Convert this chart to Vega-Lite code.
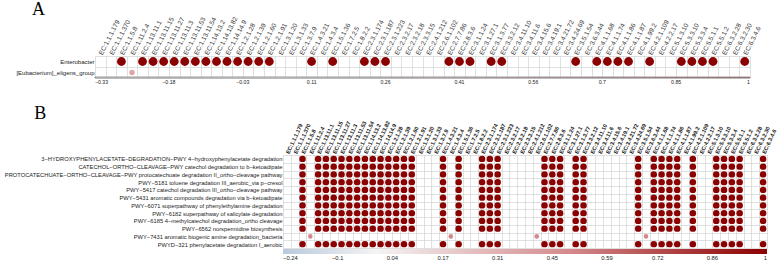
{
"$schema": "https://vega.github.io/schema/vega-lite/v6.json",
"padding": {"left": 2, "top": 0, "right": 2, "bottom": 0},
"background": "white",
"spacing": 20,
"bounds": "full",
"center": false,
"resolve": {"scale": {"color": "independent", "size": "independent", "x": "independent", "y": "independent"}, "legend": {"color": "independent", "size": "independent"}},
"config": {
 "font": "Liberation Sans",
 "view": {"stroke": null},
 "axis": {"labelFont": "Liberation Sans"},
 "legend": {"labelFont": "Liberation Sans"},
 "title": {"font": "Liberation Serif", "fontSize": 18, "fontWeight": "normal", "anchor": "start", "frame": "bounds", "dx": 30, "offset": -3, "color": "#000"}
},
"datasets": {
 "paths": [
  {"k": 1, "p": "3−HYDROXYPHENYLACETATE−DEGRADATION−PWY 4−hydroxyphenylacetate degradation"},
  {"k": 2, "p": "CATECHOL−ORTHO−CLEAVAGE−PWY catechol degradation to b−ketoadipate"},
  {"k": 3, "p": "PROTOCATECHUATE−ORTHO−CLEAVAGE−PWY protocatechuate degradation II_ortho−cleavage pathway"},
  {"k": 4, "p": "PWY−5181 toluene degradation III_aerobic_via p−cresol"},
  {"k": 5, "p": "PWY−5417 catechol degradation III_ortho−cleavage pathway"},
  {"k": 6, "p": "PWY−5431 aromatic compounds degradation via b−ketoadipate"},
  {"k": 7, "p": "PWY−6071 superpathway of phenylethylamine degradation"},
  {"k": 8, "p": "PWY−6182 superpathway of salicylate degradation"},
  {"k": 9, "p": "PWY−6185 4−methylcatechol degradation_ortho cleavage"},
  {"k": 10, "p": "PWY−6562 norspermidine biosynthesis"},
  {"k": 11, "p": "PWY−7431 aromatic biogenic amine degradation_bacteria"},
  {"k": 12, "p": "PWYD−321 phenylacetate degradation I_aerobic"}
 ],
 "a": [
  {"e":"EC:1.1.5.8","t":"Enterobacter","r":1},{"e":"EC:1.13.11.1","t":"Enterobacter","r":1},{"e":"EC:1.13.11.15","t":"Enterobacter","r":1},{"e":"EC:1.13.11.27","t":"Enterobacter","r":1},{"e":"EC:1.13.11.3","t":"Enterobacter","r":1},{"e":"EC:1.13.11.53","t":"Enterobacter","r":1},{"e":"EC:1.13.11.54","t":"Enterobacter","r":1},{"e":"EC:1.14.13.2","t":"Enterobacter","r":1},{"e":"EC:1.14.13.82","t":"Enterobacter","r":1},{"e":"EC:1.14.14.9","t":"Enterobacter","r":1},{"e":"EC:1.2.1.28","t":"Enterobacter","r":1},{"e":"EC:1.2.1.39","t":"Enterobacter","r":1},{"e":"EC:1.2.1.60","t":"Enterobacter","r":1},{"e":"EC:1.2.1.91","t":"Enterobacter","r":1},{"e":"EC:1.4.3.21","t":"Enterobacter","r":1},{"e":"EC:1.5.1.36","t":"Enterobacter","r":1},{"e":"EC:2.3.1.174","t":"Enterobacter","r":1},{"e":"EC:2.3.1.187","t":"Enterobacter","r":1},{"e":"EC:2.3.1.223","t":"Enterobacter","r":1},{"e":"EC:2.7.7.86","t":"Enterobacter","r":1},{"e":"EC:2.8.3.6","t":"Enterobacter","r":1},{"e":"EC:3.1.1.24","t":"Enterobacter","r":1},{"e":"EC:3.1.3.77","t":"Enterobacter","r":1},{"e":"EC:3.3.2.12","t":"Enterobacter","r":1},{"e":"EC:3.5.1.54","t":"Enterobacter","r":1},{"e":"EC:4.1.1.68","t":"Enterobacter","r":1},{"e":"EC:4.1.1.74","t":"Enterobacter","r":1},{"e":"EC:4.1.1.86","t":"Enterobacter","r":1},{"e":"EC:4.1.1.87","t":"Enterobacter","r":1},{"e":"EC:4.2.1.109","t":"Enterobacter","r":1},{"e":"EC:5.3.3.10","t":"Enterobacter","r":1},{"e":"EC:5.3.3.4","t":"Enterobacter","r":1},{"e":"EC:5.5.1.1","t":"Enterobacter","r":1},{"e":"EC:5.5.1.2","t":"Enterobacter","r":1},{"e":"EC:6.3.4.6","t":"Enterobacter","r":1},
  {"e":"EC:1.11.2.4","t":"[Eubacterium]_eligens_group","r":0.38}
 ],
 "b": [
  {"e":"EC:1.1.5.8","k":1,"r":1},{"e":"EC:1.13.11.1","k":1,"r":1},{"e":"EC:1.13.11.15","k":1,"r":1},{"e":"EC:1.13.11.27","k":1,"r":1},{"e":"EC:1.13.11.3","k":1,"r":1},{"e":"EC:1.13.11.53","k":1,"r":1},{"e":"EC:1.13.11.54","k":1,"r":1},{"e":"EC:1.14.13.2","k":1,"r":1},{"e":"EC:1.14.13.82","k":1,"r":1},{"e":"EC:1.14.14.9","k":1,"r":1},{"e":"EC:1.2.1.28","k":1,"r":1},{"e":"EC:1.2.1.39","k":1,"r":1},{"e":"EC:1.2.1.60","k":1,"r":1},{"e":"EC:1.2.1.91","k":1,"r":1},{"e":"EC:1.4.3.21","k":1,"r":1},{"e":"EC:1.5.1.36","k":1,"r":1},{"e":"EC:2.3.1.174","k":1,"r":1},{"e":"EC:2.3.1.187","k":1,"r":1},{"e":"EC:2.3.1.223","k":1,"r":1},{"e":"EC:2.7.7.86","k":1,"r":1},{"e":"EC:2.8.3.6","k":1,"r":1},{"e":"EC:3.1.1.24","k":1,"r":1},{"e":"EC:3.1.3.77","k":1,"r":1},{"e":"EC:3.3.2.12","k":1,"r":1},{"e":"EC:3.5.1.54","k":1,"r":1},{"e":"EC:4.1.1.68","k":1,"r":1},{"e":"EC:4.1.1.74","k":1,"r":1},{"e":"EC:4.1.1.86","k":1,"r":1},{"e":"EC:4.1.1.87","k":1,"r":1},{"e":"EC:4.2.1.109","k":1,"r":1},{"e":"EC:5.3.3.10","k":1,"r":1},{"e":"EC:5.3.3.4","k":1,"r":1},{"e":"EC:5.5.1.1","k":1,"r":1},{"e":"EC:5.5.1.2","k":1,"r":1},{"e":"EC:6.3.4.6","k":1,"r":1},
  {"e":"EC:1.1.5.8","k":2,"r":1},{"e":"EC:1.13.11.1","k":2,"r":1},{"e":"EC:1.13.11.15","k":2,"r":1},{"e":"EC:1.13.11.27","k":2,"r":1},{"e":"EC:1.13.11.3","k":2,"r":1},{"e":"EC:1.13.11.53","k":2,"r":1},{"e":"EC:1.13.11.54","k":2,"r":1},{"e":"EC:1.14.13.2","k":2,"r":1},{"e":"EC:1.14.13.82","k":2,"r":1},{"e":"EC:1.14.14.9","k":2,"r":1},{"e":"EC:1.2.1.28","k":2,"r":1},{"e":"EC:1.2.1.39","k":2,"r":1},{"e":"EC:1.2.1.60","k":2,"r":1},{"e":"EC:1.2.1.91","k":2,"r":1},{"e":"EC:1.4.3.21","k":2,"r":1},{"e":"EC:1.5.1.36","k":2,"r":1},{"e":"EC:2.3.1.174","k":2,"r":1},{"e":"EC:2.3.1.187","k":2,"r":1},{"e":"EC:2.3.1.223","k":2,"r":1},{"e":"EC:2.7.7.86","k":2,"r":1},{"e":"EC:2.8.3.6","k":2,"r":1},{"e":"EC:3.1.1.24","k":2,"r":1},{"e":"EC:3.1.3.77","k":2,"r":1},{"e":"EC:3.3.2.12","k":2,"r":1},{"e":"EC:3.5.1.54","k":2,"r":1},{"e":"EC:4.1.1.68","k":2,"r":1},{"e":"EC:4.1.1.74","k":2,"r":1},{"e":"EC:4.1.1.86","k":2,"r":1},{"e":"EC:4.1.1.87","k":2,"r":1},{"e":"EC:4.2.1.109","k":2,"r":1},{"e":"EC:5.3.3.10","k":2,"r":1},{"e":"EC:5.3.3.4","k":2,"r":1},{"e":"EC:5.5.1.1","k":2,"r":1},{"e":"EC:5.5.1.2","k":2,"r":1},{"e":"EC:6.3.4.6","k":2,"r":1},
  {"e":"EC:1.1.5.8","k":3,"r":1},{"e":"EC:1.13.11.1","k":3,"r":1},{"e":"EC:1.13.11.15","k":3,"r":1},{"e":"EC:1.13.11.27","k":3,"r":1},{"e":"EC:1.13.11.3","k":3,"r":1},{"e":"EC:1.13.11.53","k":3,"r":1},{"e":"EC:1.13.11.54","k":3,"r":1},{"e":"EC:1.14.13.2","k":3,"r":1},{"e":"EC:1.14.13.82","k":3,"r":1},{"e":"EC:1.14.14.9","k":3,"r":1},{"e":"EC:1.2.1.28","k":3,"r":1},{"e":"EC:1.2.1.39","k":3,"r":1},{"e":"EC:1.2.1.60","k":3,"r":1},{"e":"EC:1.2.1.91","k":3,"r":1},{"e":"EC:1.4.3.21","k":3,"r":1},{"e":"EC:1.5.1.36","k":3,"r":1},{"e":"EC:2.3.1.174","k":3,"r":1},{"e":"EC:2.3.1.187","k":3,"r":1},{"e":"EC:2.3.1.223","k":3,"r":1},{"e":"EC:2.7.7.86","k":3,"r":1},{"e":"EC:2.8.3.6","k":3,"r":1},{"e":"EC:3.1.1.24","k":3,"r":1},{"e":"EC:3.1.3.77","k":3,"r":1},{"e":"EC:3.3.2.12","k":3,"r":1},{"e":"EC:3.5.1.54","k":3,"r":1},{"e":"EC:4.1.1.68","k":3,"r":1},{"e":"EC:4.1.1.74","k":3,"r":1},{"e":"EC:4.1.1.86","k":3,"r":1},{"e":"EC:4.1.1.87","k":3,"r":1},{"e":"EC:4.2.1.109","k":3,"r":1},{"e":"EC:5.3.3.10","k":3,"r":1},{"e":"EC:5.3.3.4","k":3,"r":1},{"e":"EC:5.5.1.1","k":3,"r":1},{"e":"EC:5.5.1.2","k":3,"r":1},{"e":"EC:6.3.4.6","k":3,"r":1},
  {"e":"EC:1.1.5.8","k":4,"r":1},{"e":"EC:1.13.11.1","k":4,"r":1},{"e":"EC:1.13.11.15","k":4,"r":1},{"e":"EC:1.13.11.27","k":4,"r":1},{"e":"EC:1.13.11.3","k":4,"r":1},{"e":"EC:1.13.11.53","k":4,"r":1},{"e":"EC:1.13.11.54","k":4,"r":1},{"e":"EC:1.14.13.2","k":4,"r":1},{"e":"EC:1.14.13.82","k":4,"r":1},{"e":"EC:1.14.14.9","k":4,"r":1},{"e":"EC:1.2.1.28","k":4,"r":1},{"e":"EC:1.2.1.39","k":4,"r":1},{"e":"EC:1.2.1.60","k":4,"r":1},{"e":"EC:1.2.1.91","k":4,"r":1},{"e":"EC:1.4.3.21","k":4,"r":1},{"e":"EC:1.5.1.36","k":4,"r":1},{"e":"EC:2.3.1.174","k":4,"r":1},{"e":"EC:2.3.1.187","k":4,"r":1},{"e":"EC:2.3.1.223","k":4,"r":1},{"e":"EC:2.7.7.86","k":4,"r":1},{"e":"EC:2.8.3.6","k":4,"r":1},{"e":"EC:3.1.1.24","k":4,"r":1},{"e":"EC:3.1.3.77","k":4,"r":1},{"e":"EC:3.3.2.12","k":4,"r":1},{"e":"EC:3.5.1.54","k":4,"r":1},{"e":"EC:4.1.1.68","k":4,"r":1},{"e":"EC:4.1.1.74","k":4,"r":1},{"e":"EC:4.1.1.86","k":4,"r":1},{"e":"EC:4.1.1.87","k":4,"r":1},{"e":"EC:4.2.1.109","k":4,"r":1},{"e":"EC:5.3.3.10","k":4,"r":1},{"e":"EC:5.3.3.4","k":4,"r":1},{"e":"EC:5.5.1.1","k":4,"r":1},{"e":"EC:5.5.1.2","k":4,"r":1},{"e":"EC:6.3.4.6","k":4,"r":1},
  {"e":"EC:1.1.5.8","k":5,"r":1},{"e":"EC:1.13.11.1","k":5,"r":1},{"e":"EC:1.13.11.15","k":5,"r":1},{"e":"EC:1.13.11.27","k":5,"r":1},{"e":"EC:1.13.11.3","k":5,"r":1},{"e":"EC:1.13.11.53","k":5,"r":1},{"e":"EC:1.13.11.54","k":5,"r":1},{"e":"EC:1.14.13.2","k":5,"r":1},{"e":"EC:1.14.13.82","k":5,"r":1},{"e":"EC:1.14.14.9","k":5,"r":1},{"e":"EC:1.2.1.28","k":5,"r":1},{"e":"EC:1.2.1.39","k":5,"r":1},{"e":"EC:1.2.1.60","k":5,"r":1},{"e":"EC:1.2.1.91","k":5,"r":1},{"e":"EC:1.4.3.21","k":5,"r":1},{"e":"EC:1.5.1.36","k":5,"r":1},{"e":"EC:2.3.1.174","k":5,"r":1},{"e":"EC:2.3.1.187","k":5,"r":1},{"e":"EC:2.3.1.223","k":5,"r":1},{"e":"EC:2.7.7.86","k":5,"r":1},{"e":"EC:2.8.3.6","k":5,"r":1},{"e":"EC:3.1.1.24","k":5,"r":1},{"e":"EC:3.1.3.77","k":5,"r":1},{"e":"EC:3.3.2.12","k":5,"r":1},{"e":"EC:3.5.1.54","k":5,"r":1},{"e":"EC:4.1.1.68","k":5,"r":1},{"e":"EC:4.1.1.74","k":5,"r":1},{"e":"EC:4.1.1.86","k":5,"r":1},{"e":"EC:4.1.1.87","k":5,"r":1},{"e":"EC:4.2.1.109","k":5,"r":1},{"e":"EC:5.3.3.10","k":5,"r":1},{"e":"EC:5.3.3.4","k":5,"r":1},{"e":"EC:5.5.1.1","k":5,"r":1},{"e":"EC:5.5.1.2","k":5,"r":1},{"e":"EC:6.3.4.6","k":5,"r":1},
  {"e":"EC:1.1.5.8","k":6,"r":1},{"e":"EC:1.13.11.1","k":6,"r":1},{"e":"EC:1.13.11.15","k":6,"r":1},{"e":"EC:1.13.11.27","k":6,"r":1},{"e":"EC:1.13.11.3","k":6,"r":1},{"e":"EC:1.13.11.53","k":6,"r":1},{"e":"EC:1.13.11.54","k":6,"r":1},{"e":"EC:1.14.13.2","k":6,"r":1},{"e":"EC:1.14.13.82","k":6,"r":1},{"e":"EC:1.14.14.9","k":6,"r":1},{"e":"EC:1.2.1.28","k":6,"r":1},{"e":"EC:1.2.1.39","k":6,"r":1},{"e":"EC:1.2.1.60","k":6,"r":1},{"e":"EC:1.2.1.91","k":6,"r":1},{"e":"EC:1.4.3.21","k":6,"r":1},{"e":"EC:1.5.1.36","k":6,"r":1},{"e":"EC:2.3.1.174","k":6,"r":1},{"e":"EC:2.3.1.187","k":6,"r":1},{"e":"EC:2.3.1.223","k":6,"r":1},{"e":"EC:2.7.7.86","k":6,"r":1},{"e":"EC:2.8.3.6","k":6,"r":1},{"e":"EC:3.1.1.24","k":6,"r":1},{"e":"EC:3.1.3.77","k":6,"r":1},{"e":"EC:3.3.2.12","k":6,"r":1},{"e":"EC:3.5.1.54","k":6,"r":1},{"e":"EC:4.1.1.68","k":6,"r":1},{"e":"EC:4.1.1.74","k":6,"r":1},{"e":"EC:4.1.1.86","k":6,"r":1},{"e":"EC:4.1.1.87","k":6,"r":1},{"e":"EC:4.2.1.109","k":6,"r":1},{"e":"EC:5.3.3.10","k":6,"r":1},{"e":"EC:5.3.3.4","k":6,"r":1},{"e":"EC:5.5.1.1","k":6,"r":1},{"e":"EC:5.5.1.2","k":6,"r":1},{"e":"EC:6.3.4.6","k":6,"r":1},
  {"e":"EC:1.1.5.8","k":7,"r":1},{"e":"EC:1.13.11.1","k":7,"r":1},{"e":"EC:1.13.11.15","k":7,"r":1},{"e":"EC:1.13.11.27","k":7,"r":1},{"e":"EC:1.13.11.3","k":7,"r":1},{"e":"EC:1.13.11.53","k":7,"r":1},{"e":"EC:1.13.11.54","k":7,"r":1},{"e":"EC:1.14.13.2","k":7,"r":1},{"e":"EC:1.14.13.82","k":7,"r":1},{"e":"EC:1.14.14.9","k":7,"r":1},{"e":"EC:1.2.1.28","k":7,"r":1},{"e":"EC:1.2.1.39","k":7,"r":1},{"e":"EC:1.2.1.60","k":7,"r":1},{"e":"EC:1.2.1.91","k":7,"r":1},{"e":"EC:1.4.3.21","k":7,"r":1},{"e":"EC:1.5.1.36","k":7,"r":1},{"e":"EC:2.3.1.174","k":7,"r":1},{"e":"EC:2.3.1.187","k":7,"r":1},{"e":"EC:2.3.1.223","k":7,"r":1},{"e":"EC:2.7.7.86","k":7,"r":1},{"e":"EC:2.8.3.6","k":7,"r":1},{"e":"EC:3.1.1.24","k":7,"r":1},{"e":"EC:3.1.3.77","k":7,"r":1},{"e":"EC:3.3.2.12","k":7,"r":1},{"e":"EC:3.5.1.54","k":7,"r":1},{"e":"EC:4.1.1.68","k":7,"r":1},{"e":"EC:4.1.1.74","k":7,"r":1},{"e":"EC:4.1.1.86","k":7,"r":1},{"e":"EC:4.1.1.87","k":7,"r":1},{"e":"EC:4.2.1.109","k":7,"r":1},{"e":"EC:5.3.3.10","k":7,"r":1},{"e":"EC:5.3.3.4","k":7,"r":1},{"e":"EC:5.5.1.1","k":7,"r":1},{"e":"EC:5.5.1.2","k":7,"r":1},{"e":"EC:6.3.4.6","k":7,"r":1},
  {"e":"EC:1.1.5.8","k":8,"r":1},{"e":"EC:1.13.11.1","k":8,"r":1},{"e":"EC:1.13.11.15","k":8,"r":1},{"e":"EC:1.13.11.27","k":8,"r":1},{"e":"EC:1.13.11.3","k":8,"r":1},{"e":"EC:1.13.11.53","k":8,"r":1},{"e":"EC:1.13.11.54","k":8,"r":1},{"e":"EC:1.14.13.2","k":8,"r":1},{"e":"EC:1.14.13.82","k":8,"r":1},{"e":"EC:1.14.14.9","k":8,"r":1},{"e":"EC:1.2.1.28","k":8,"r":1},{"e":"EC:1.2.1.39","k":8,"r":1},{"e":"EC:1.2.1.60","k":8,"r":1},{"e":"EC:1.2.1.91","k":8,"r":1},{"e":"EC:1.4.3.21","k":8,"r":1},{"e":"EC:1.5.1.36","k":8,"r":1},{"e":"EC:2.3.1.174","k":8,"r":1},{"e":"EC:2.3.1.187","k":8,"r":1},{"e":"EC:2.3.1.223","k":8,"r":1},{"e":"EC:2.7.7.86","k":8,"r":1},{"e":"EC:2.8.3.6","k":8,"r":1},{"e":"EC:3.1.1.24","k":8,"r":1},{"e":"EC:3.1.3.77","k":8,"r":1},{"e":"EC:3.3.2.12","k":8,"r":1},{"e":"EC:3.5.1.54","k":8,"r":1},{"e":"EC:4.1.1.68","k":8,"r":1},{"e":"EC:4.1.1.74","k":8,"r":1},{"e":"EC:4.1.1.86","k":8,"r":1},{"e":"EC:4.1.1.87","k":8,"r":1},{"e":"EC:4.2.1.109","k":8,"r":1},{"e":"EC:5.3.3.10","k":8,"r":1},{"e":"EC:5.3.3.4","k":8,"r":1},{"e":"EC:5.5.1.1","k":8,"r":1},{"e":"EC:5.5.1.2","k":8,"r":1},{"e":"EC:6.3.4.6","k":8,"r":1},
  {"e":"EC:1.1.5.8","k":9,"r":1},{"e":"EC:1.13.11.1","k":9,"r":1},{"e":"EC:1.13.11.15","k":9,"r":1},{"e":"EC:1.13.11.27","k":9,"r":1},{"e":"EC:1.13.11.3","k":9,"r":1},{"e":"EC:1.13.11.53","k":9,"r":1},{"e":"EC:1.13.11.54","k":9,"r":1},{"e":"EC:1.14.13.2","k":9,"r":1},{"e":"EC:1.14.13.82","k":9,"r":1},{"e":"EC:1.14.14.9","k":9,"r":1},{"e":"EC:1.2.1.28","k":9,"r":1},{"e":"EC:1.2.1.39","k":9,"r":1},{"e":"EC:1.2.1.60","k":9,"r":1},{"e":"EC:1.2.1.91","k":9,"r":1},{"e":"EC:1.4.3.21","k":9,"r":1},{"e":"EC:1.5.1.36","k":9,"r":1},{"e":"EC:2.3.1.174","k":9,"r":1},{"e":"EC:2.3.1.187","k":9,"r":1},{"e":"EC:2.3.1.223","k":9,"r":1},{"e":"EC:2.7.7.86","k":9,"r":1},{"e":"EC:2.8.3.6","k":9,"r":1},{"e":"EC:3.1.1.24","k":9,"r":1},{"e":"EC:3.1.3.77","k":9,"r":1},{"e":"EC:3.3.2.12","k":9,"r":1},{"e":"EC:3.5.1.54","k":9,"r":1},{"e":"EC:4.1.1.68","k":9,"r":1},{"e":"EC:4.1.1.74","k":9,"r":1},{"e":"EC:4.1.1.86","k":9,"r":1},{"e":"EC:4.1.1.87","k":9,"r":1},{"e":"EC:4.2.1.109","k":9,"r":1},{"e":"EC:5.3.3.10","k":9,"r":1},{"e":"EC:5.3.3.4","k":9,"r":1},{"e":"EC:5.5.1.1","k":9,"r":1},{"e":"EC:5.5.1.2","k":9,"r":1},{"e":"EC:6.3.4.6","k":9,"r":1},
  {"e":"EC:1.1.5.8","k":10,"r":1},{"e":"EC:1.13.11.1","k":10,"r":1},{"e":"EC:1.13.11.15","k":10,"r":1},{"e":"EC:1.13.11.27","k":10,"r":1},{"e":"EC:1.13.11.3","k":10,"r":1},{"e":"EC:1.13.11.53","k":10,"r":1},{"e":"EC:1.13.11.54","k":10,"r":1},{"e":"EC:1.14.13.2","k":10,"r":1},{"e":"EC:1.14.13.82","k":10,"r":1},{"e":"EC:1.14.14.9","k":10,"r":1},{"e":"EC:1.2.1.28","k":10,"r":1},{"e":"EC:1.2.1.39","k":10,"r":1},{"e":"EC:1.2.1.60","k":10,"r":1},{"e":"EC:1.2.1.91","k":10,"r":1},{"e":"EC:1.4.3.21","k":10,"r":1},{"e":"EC:1.5.1.36","k":10,"r":1},{"e":"EC:2.3.1.174","k":10,"r":1},{"e":"EC:2.3.1.187","k":10,"r":1},{"e":"EC:2.3.1.223","k":10,"r":1},{"e":"EC:2.7.7.86","k":10,"r":1},{"e":"EC:2.8.3.6","k":10,"r":1},{"e":"EC:3.1.1.24","k":10,"r":1},{"e":"EC:3.1.3.77","k":10,"r":1},{"e":"EC:3.3.2.12","k":10,"r":1},{"e":"EC:3.5.1.54","k":10,"r":1},{"e":"EC:4.1.1.68","k":10,"r":1},{"e":"EC:4.1.1.74","k":10,"r":1},{"e":"EC:4.1.1.86","k":10,"r":1},{"e":"EC:4.1.1.87","k":10,"r":1},{"e":"EC:4.2.1.109","k":10,"r":1},{"e":"EC:5.3.3.10","k":10,"r":1},{"e":"EC:5.3.3.4","k":10,"r":1},{"e":"EC:5.5.1.1","k":10,"r":1},{"e":"EC:5.5.1.2","k":10,"r":1},{"e":"EC:6.3.4.6","k":10,"r":1},
  {"e":"EC:1.11.2.4","k":11,"r":0.5},{"e":"EC:1.4.3.4","k":11,"r":0.5},{"e":"EC:2.6.1.102","k":11,"r":0.5},{"e":"EC:3.6.3.44","k":11,"r":0.5},
  {"e":"EC:1.1.5.8","k":12,"r":1},{"e":"EC:1.13.11.1","k":12,"r":1},{"e":"EC:1.13.11.15","k":12,"r":1},{"e":"EC:1.13.11.27","k":12,"r":1},{"e":"EC:1.13.11.3","k":12,"r":1},{"e":"EC:1.13.11.53","k":12,"r":1},{"e":"EC:1.13.11.54","k":12,"r":1},{"e":"EC:1.14.13.2","k":12,"r":1},{"e":"EC:1.14.13.82","k":12,"r":1},{"e":"EC:1.14.14.9","k":12,"r":1},{"e":"EC:1.2.1.28","k":12,"r":1},{"e":"EC:1.2.1.39","k":12,"r":1},{"e":"EC:1.2.1.60","k":12,"r":1},{"e":"EC:1.2.1.91","k":12,"r":1},{"e":"EC:1.4.3.21","k":12,"r":1},{"e":"EC:1.5.1.36","k":12,"r":1},{"e":"EC:2.3.1.174","k":12,"r":1},{"e":"EC:2.3.1.187","k":12,"r":1},{"e":"EC:2.3.1.223","k":12,"r":1},{"e":"EC:2.7.7.86","k":12,"r":1},{"e":"EC:2.8.3.6","k":12,"r":1},{"e":"EC:3.1.1.24","k":12,"r":1},{"e":"EC:3.1.3.77","k":12,"r":1},{"e":"EC:3.3.2.12","k":12,"r":1},{"e":"EC:3.5.1.54","k":12,"r":1},{"e":"EC:4.1.1.68","k":12,"r":1},{"e":"EC:4.1.1.74","k":12,"r":1},{"e":"EC:4.1.1.86","k":12,"r":1},{"e":"EC:4.1.1.87","k":12,"r":1},{"e":"EC:4.2.1.109","k":12,"r":1},{"e":"EC:5.3.3.10","k":12,"r":1},{"e":"EC:5.3.3.4","k":12,"r":1},{"e":"EC:5.5.1.1","k":12,"r":1},{"e":"EC:5.5.1.2","k":12,"r":1},{"e":"EC:6.3.4.6","k":12,"r":1}
 ]
},
"vconcat": [
 {
  "title": {"text": "A"},
  "width": 655,
  "height": 22,
  "data": {"name": "a"},
  "mark": {"type": "circle", "opacity": 1},
  "encoding": {
   "x": {"field": "e", "type": "nominal", "sort": null,
    "scale": {"type": "band", "paddingInner": 0, "paddingOuter": 0, "domain": ["EC:1.1.1.179","EC:1.1.1.370","EC:1.1.5.8","EC:1.11.2.4","EC:1.13.11.1","EC:1.13.11.15","EC:1.13.11.27","EC:1.13.11.3","EC:1.13.11.53","EC:1.13.11.54","EC:1.14.13.2","EC:1.14.13.82","EC:1.14.14.9","EC:1.2.1.28","EC:1.2.1.39","EC:1.2.1.60","EC:1.2.1.91","EC:1.3.1.20","EC:1.3.1.33","EC:1.3.7.9","EC:1.4.3.21","EC:1.4.3.4","EC:1.5.1.36","EC:1.7.2.5","EC:1.8.2.2","EC:2.3.1.174","EC:2.3.1.187","EC:2.3.1.223","EC:2.3.2.17","EC:2.3.2.18","EC:2.3.3.15","EC:2.4.1.212","EC:2.6.1.102","EC:2.7.7.86","EC:2.8.3.6","EC:3.1.1.24","EC:3.1.27.1","EC:3.1.3.77","EC:3.3.2.12","EC:3.4.11.10","EC:3.4.11.6","EC:3.4.15.6","EC:3.4.19.1","EC:3.4.21.72","EC:3.4.24.69","EC:3.5.1.54","EC:3.6.3.44","EC:4.1.1.68","EC:4.1.1.74","EC:4.1.1.86","EC:4.1.1.87","EC:4.1.99.2","EC:4.2.1.109","EC:4.2.2.17","EC:5.1.3.10","EC:5.3.3.10","EC:5.3.3.4","EC:5.5.1.1","EC:5.5.1.2","EC:6.3.2.28","EC:6.3.2.30","EC:6.3.4.6"]},
    "axis": {"orient": "top", "title": null, "labelAngle": -63, "labelAlign": "left", "labelBaseline": "middle", "labelFontSize": 6.5, "labelColor": "#333", "ticks": false, "tickSize": 0, "domain": false, "grid": true, "tickBand": "extent", "gridColor": "#d3d3d3", "gridWidth": 0.7, "labelPadding": 2, "labelOverlap": false, "labelLimit": 0}},
   "y": {"field": "t", "type": "nominal", "sort": null,
    "scale": {"type": "band", "paddingInner": 0, "paddingOuter": 0, "domain": ["Enterobacter", "[Eubacterium]_eligens_group"]},
    "axis": {"title": null, "ticks": false, "tickSize": 0, "domain": false, "grid": true, "tickBand": "extent", "gridColor": "#d3d3d3", "gridWidth": 0.7, "labelFontSize": 6, "labelColor": "#222", "labelPadding": 1, "minExtent": 93, "maxExtent": 300, "labelLimit": 0}},
   "color": {"field": "r", "type": "quantitative",
    "scale": {"domain": [-0.33, 0, 0.5, 1], "range": ["#c4d1e1", "#ffffff", "#d4888b", "#8b0000"], "interpolate": "rgb"},
    "legend": {"orient": "none", "legendX": 0, "legendY": 21, "direction": "horizontal", "gradientLength": 655, "gradientThickness": 1, "gradientStrokeColor": "#9a9a9a", "gradientStrokeWidth": 1, "title": null, "values": [-0.33, -0.18, -0.03, 0.11, 0.26, 0.41, 0.56, 0.7, 0.85, 1], "format": ".2~f", "labelFontSize": 5.2, "labelColor": "#222", "labelAlign": "center", "labelOffset": 1.5, "labelOverlap": false}},
   "size": {"field": "r", "type": "quantitative", "scale": {"type": "linear", "zero": true, "domain": [0, 1], "range": [0, 78]}, "legend": null}
  }
 },
 {
  "title": {"text": "B"},
  "width": 672,
  "height": 93,
  "data": {"name": "b"},
  "transform": [{"lookup": "k", "from": {"data": {"name": "paths"}, "key": "k", "fields": ["p"]}}],
  "mark": {"type": "circle", "opacity": 1},
  "encoding": {
   "x": {"field": "e", "type": "nominal", "sort": null,
    "scale": {"type": "band", "paddingInner": 0, "paddingOuter": 0, "range": [188, 672], "domain": ["EC:1.1.1.179","EC:1.1.1.370","EC:1.1.5.8","EC:1.11.2.4","EC:1.13.11.1","EC:1.13.11.15","EC:1.13.11.27","EC:1.13.11.3","EC:1.13.11.53","EC:1.13.11.54","EC:1.14.13.2","EC:1.14.13.82","EC:1.14.14.9","EC:1.2.1.28","EC:1.2.1.39","EC:1.2.1.60","EC:1.2.1.91","EC:1.3.1.20","EC:1.3.1.33","EC:1.3.7.9","EC:1.4.3.21","EC:1.4.3.4","EC:1.5.1.36","EC:1.7.2.5","EC:1.8.2.2","EC:2.3.1.174","EC:2.3.1.187","EC:2.3.1.223","EC:2.3.2.17","EC:2.3.2.18","EC:2.3.3.15","EC:2.4.1.212","EC:2.6.1.102","EC:2.7.7.86","EC:2.8.3.6","EC:3.1.1.24","EC:3.1.27.1","EC:3.1.3.77","EC:3.3.2.12","EC:3.4.11.10","EC:3.4.11.6","EC:3.4.15.6","EC:3.4.19.1","EC:3.4.21.72","EC:3.4.24.69","EC:3.5.1.54","EC:3.6.3.44","EC:4.1.1.68","EC:4.1.1.74","EC:4.1.1.86","EC:4.1.1.87","EC:4.1.99.2","EC:4.2.1.109","EC:4.2.2.17","EC:5.1.3.10","EC:5.3.3.10","EC:5.3.3.4","EC:5.5.1.1","EC:5.5.1.2","EC:6.3.2.28","EC:6.3.2.30","EC:6.3.4.6"]},
    "axis": {"orient": "top", "title": null, "labelAngle": -65, "labelAlign": "left", "labelBaseline": "middle", "labelFontSize": 5.5, "labelFontWeight": "bold", "labelColor": "#111", "ticks": false, "tickSize": 0, "domain": false, "grid": true, "tickBand": "extent", "gridColor": "#d3d3d3", "gridWidth": 0.7, "labelPadding": 2, "labelOverlap": false, "labelLimit": 0}},
   "y": {"field": "p", "type": "nominal", "sort": null,
    "scale": {"type": "band", "paddingInner": 0, "paddingOuter": 0, "domain": ["3−HYDROXYPHENYLACETATE−DEGRADATION−PWY 4−hydroxyphenylacetate degradation", "CATECHOL−ORTHO−CLEAVAGE−PWY catechol degradation to b−ketoadipate", "PROTOCATECHUATE−ORTHO−CLEAVAGE−PWY protocatechuate degradation II_ortho−cleavage pathway", "PWY−5181 toluene degradation III_aerobic_via p−cresol", "PWY−5417 catechol degradation III_ortho−cleavage pathway", "PWY−5431 aromatic compounds degradation via b−ketoadipate", "PWY−6071 superpathway of phenylethylamine degradation", "PWY−6182 superpathway of salicylate degradation", "PWY−6185 4−methylcatechol degradation_ortho cleavage", "PWY−6562 norspermidine biosynthesis", "PWY−7431 aromatic biogenic amine degradation_bacteria", "PWYD−321 phenylacetate degradation I_aerobic"]},
    "axis": {"title": null, "offset": -188, "ticks": false, "tickSize": 0, "domain": false, "grid": true, "tickBand": "extent", "gridColor": "#d3d3d3", "gridWidth": 0.7, "labelFontSize": 5.75, "labelColor": "#222", "labelPadding": 1, "maxExtent": 400, "labelLimit": 0}},
   "color": {"field": "r", "type": "quantitative",
    "scale": {"domain": [-0.24, 0, 0.5, 1], "range": ["#b9c9dd", "#f4f4f4", "#d4888b", "#8b0000"], "interpolate": "rgb"},
    "legend": {"orient": "none", "legendX": 188, "legendY": 94, "direction": "horizontal", "gradientLength": 484, "gradientThickness": 5, "gradientStrokeWidth": 0, "title": null, "values": [-0.24, -0.1, 0.04, 0.17, 0.31, 0.45, 0.59, 0.72, 0.86, 1], "format": ".2~f", "labelFontSize": 5.8, "labelColor": "#222", "labelAlign": "center", "labelOffset": 1, "labelOverlap": false}},
   "size": {"field": "r", "type": "quantitative", "scale": {"type": "linear", "zero": true, "domain": [0, 1], "range": [0, 42]}, "legend": null}
  }
 }
]
}
